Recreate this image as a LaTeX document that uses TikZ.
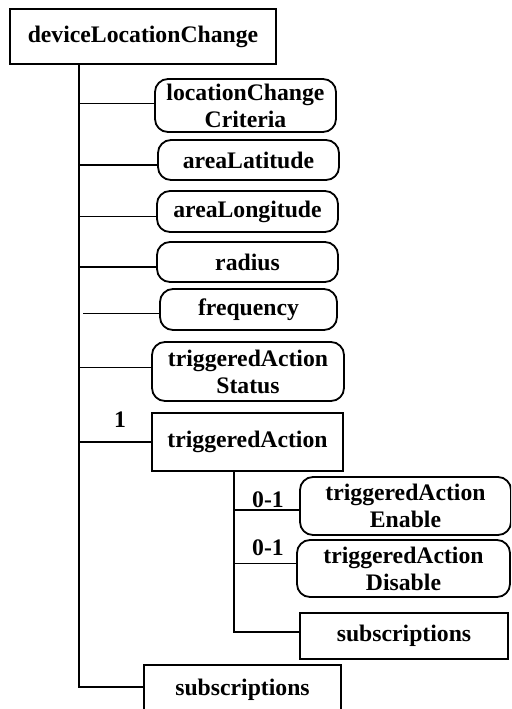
\documentclass[tikz,border=0pt]{standalone}
\usepackage{fontspec}
\setmainfont{Liberation Serif}
\begin{document}
\begin{tikzpicture}[x=0.5pt,y=-0.5pt,
  every node/.style={font=\fontsize{11.85}{13.5}\selectfont\bfseries},
  box/.style={draw,line width=0.9pt,inner sep=0pt,align=center},
  rbox/.style={box,rounded corners=6.5pt},
  conn/.style={line width=0.9pt},
  lbl/.style={inner sep=0pt}]
\clip (0,0) rectangle (511,709);
\node[box,minimum width=133pt,minimum height=27.5pt] (root) at (143,36.5) {deviceLocationChange};
\node[rbox,minimum width=90.5pt,minimum height=26.5pt] (lcc) at (245.5,105.5) {locationChange\\Criteria};
\node[rbox,minimum width=90.5pt,minimum height=20pt] (alat) at (248.5,160) {areaLatitude};
\node[rbox,minimum width=90.5pt,minimum height=20.5pt] (alon) at (247.5,211.5) {areaLongitude};
\node[rbox,minimum width=90.5pt,minimum height=20pt] (rad) at (247.5,262) {radius};
\node[rbox,minimum width=88.5pt,minimum height=20.5pt] (freq) at (248.5,309.5) {frequency};
\node[rbox,minimum width=96pt,minimum height=29.5pt] (tas) at (248,371.5) {triggeredAction\\Status};
\node[box,minimum width=95.5pt,minimum height=29pt] (ta) at (247.5,442) {triggeredAction};
\node[rbox,minimum width=105.5pt,minimum height=29pt] (ten) at (405.5,506) {triggeredAction\\Enable};
\node[rbox,minimum width=106.5pt,minimum height=28.5pt] (tdis) at (403.5,568.5) {triggeredAction\\Disable};
\node[box,minimum width=104pt,minimum height=23pt] (subs1) at (404,636) {subscriptions};
\node[box,minimum width=98.5pt,minimum height=25pt] (subs2) at (242.5,690) {subscriptions};
\node[lbl] (one) at (120,420) {1};
\node[lbl] (oa) at (268,500) {0-1};
\node[lbl] (ob) at (268,548) {0-1};
\coordinate (tb) at (79,687);
\coordinate (sb) at (234,632);
\draw[conn] (root.south -| tb) -- (tb) -- (tb -| subs2.west);
\draw[conn] ([yshift=1pt]lcc.west -| tb) -- ([yshift=1pt]lcc.west);
\draw[conn] ([yshift=-2.5pt]alat.west -| tb) -- ([yshift=-2.5pt]alat.west);
\draw[conn] ([yshift=-2.5pt]alon.west -| tb) -- ([yshift=-2.5pt]alon.west);
\draw[conn] ([yshift=-2.5pt]rad.west -| tb) -- ([yshift=-2.5pt]rad.west);
\draw[conn] ([xshift=2pt,yshift=-2pt]freq.west -| tb) -- ([yshift=-2pt]freq.west);
\draw[conn] ([yshift=2pt]tas.west -| tb) -- ([yshift=2pt]tas.west);
\draw[conn] (ta.west -| tb) -- (ta.west);
\draw[conn] (ta.south -| sb) -- (sb) -- (sb -| subs1.west);
\draw[conn] ([yshift=-2pt]ten.west -| sb) -- ([yshift=-2pt]ten.west);
\draw[conn] ([yshift=2.5pt]tdis.west -| sb) -- ([yshift=2.5pt]tdis.west);
\end{tikzpicture}
\end{document}
